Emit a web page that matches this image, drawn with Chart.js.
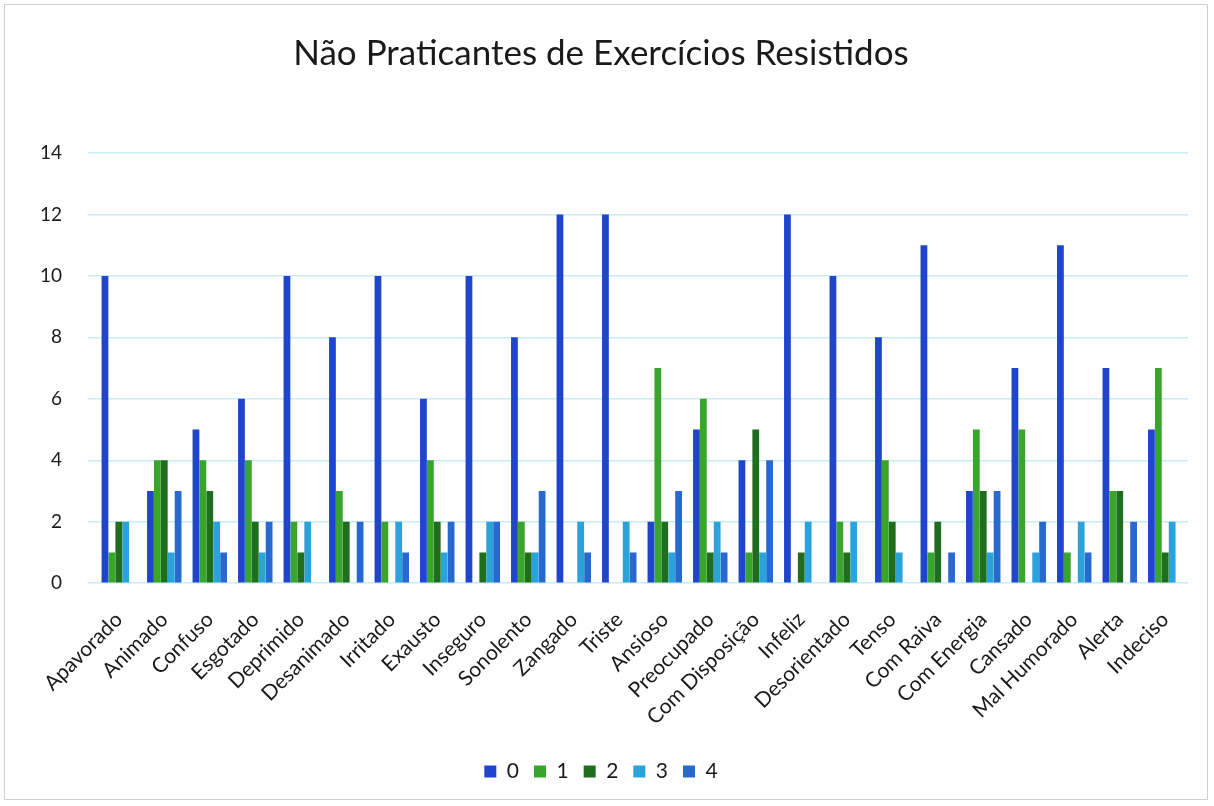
<!DOCTYPE html>
<html>
<head>
<meta charset="utf-8">
<script src="https://cdn.jsdelivr.net/npm/chart.js@4"></script>
<style>
  html,body{margin:0;padding:0;background:#fff;}
  #wrap{position:absolute;left:4px;top:4px;width:1204px;height:796px;border:1px solid #cfcfcf;box-sizing:border-box;}
  canvas{display:block;}
</style>
</head>
<body>
<div id="wrap"><canvas id="c"></canvas></div>
<script>
const categories = ["Apavorado","Animado","Confuso","Esgotado","Deprimido","Desanimado","Irritado","Exausto","Inseguro","Sonolento","Zangado","Triste","Ansioso","Preocupado","Com Disposição","Infeliz","Desorientado","Tenso","Com Raiva","Com Energia","Cansado","Mal Humorado","Alerta","Indeciso"];
const seriesNames = ["0","1","2","3","4"];
const s0 = [10,3,5,6,10,8,10,6,10,8,12,12,2,5,4,12,10,8,11,3,7,11,7,5];
const s1 = [1,4,4,4,2,3,2,4,0,2,0,0,7,6,1,0,2,4,1,5,5,1,3,7];
const s2 = [2,4,3,2,1,2,0,2,1,1,0,0,2,1,5,1,1,2,2,3,0,0,3,1];
const s3 = [2,1,2,1,2,0,2,1,2,1,2,2,1,2,1,2,2,1,0,1,1,2,0,2];
const s4 = [0,3,1,2,0,2,1,2,2,3,1,1,3,1,4,0,0,0,1,3,2,1,2,0];
const yTicks = [0,2,4,6,8,10,12,14];
const colors = ["#1f45cc","#3aa52c","#1f6e1f","#2aa2dc","#2869cf"];
const title = "Não Praticantes de Exercícios Resistidos";

const values = [s0,s1,s2,s3,s4];
const datasets = seriesNames.map((n,i)=>({
  label:n, data:values[i], backgroundColor:colors[i], borderWidth:0,
  barPercentage:0.98, categoryPercentage:0.76
}));

new Chart(document.getElementById('c'),{
  type:'bar',
  data:{labels:categories,datasets},
  options:{
    responsive:true, maintainAspectRatio:false, animation:false,
    layout:{padding:{left:9,right:19,top:28,bottom:7}},
    plugins:{
      title:{display:true,text:title,color:'#1a1a1a',font:{family:'Lato',size:35,weight:'normal'},padding:{top:0,bottom:78}},
      legend:{position:'bottom',labels:{boxWidth:12,boxHeight:12,color:'#1a1a1a',font:{family:'Lato',size:21},padding:15}},
      tooltip:{enabled:false}
    },
    scales:{
      x:{grid:{display:false},border:{display:false},
         ticks:{color:'#1a1a1a',font:{family:'Lato',size:21},maxRotation:45,minRotation:45,autoSkip:false,padding:16}},
      y:{min:0,max:14,afterBuildTicks:(ax)=>{ax.ticks=yTicks.map(v=>({value:v}));},
         grid:{color:'#c6eef4',lineWidth:1.5},border:{display:false},
         ticks:{color:'#1a1a1a',font:{family:'Lato',size:19},padding:26}}
    }
  }
});
</script>
</body>
</html>
